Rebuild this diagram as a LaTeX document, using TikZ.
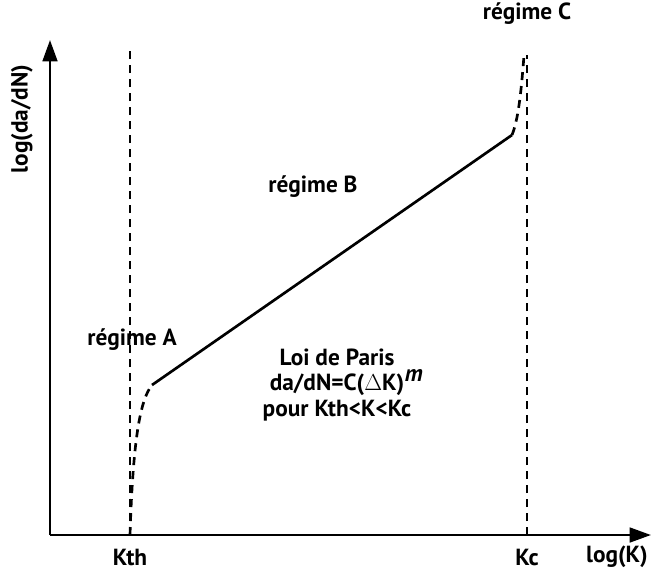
\documentclass[tikz,border=0pt]{standalone}
\usepackage{fontspec}
\setmainfont{PT Sans}
\usepackage{tikz}
\usetikzlibrary{arrows.meta,positioning}

\begin{document}
\begin{tikzpicture}[x=0.75pt,y=-0.75pt,font=\bfseries\fontsize{17.5}{19}\selectfont,
	axe/.style={line width=2pt,-{Triangle[length=16pt,width=11pt]}},
	seuil/.style={line width=2pt,dash pattern=on 6pt off 4.5pt},
	courbe/.style={line width=2pt}]
			\useasboundingbox (0,0) rectangle (652,572);
			\coordinate (origin) at (50,535);
			\coordinate (ytip) at (50,40);
			\coordinate (xtip) at (651,535);
			\coordinate (kthtop) at (130,45);
			\coordinate (kthbot) at (130,535);
			\coordinate (kctop) at (527,55);
			\coordinate (kcbot) at (527,535);
			\coordinate (startA) at (130,535);
			\coordinate (endA) at (152,385);
			\coordinate (endB) at (512,135);
			\coordinate (endC) at (524,55);

			\node (kth) at (130,557) {Kth};
			\node (kc) at (527,557) {Kc};
			\node (logk) at (617,557) {log(K)};
			\node[rotate=90] (logda) at (22,119) {log(da/dN)};
			\node (regA) at (132,340) {régime A};
			\node (regB) at (313,187) {régime B};
			\node (regC) at (527,14) {régime C};
			\node[align=center,inner sep=0pt] (paris) at (337,385) {Loi de Paris\\da/dN=C(\ensuremath{\Delta}K)\rlap{\kern0.5pt\raisebox{7pt}{\itshape m}}\\pour Kth<K<Kc};

			\draw [axe] (origin) to (ytip);
			\draw [axe] (origin) to (xtip);
			\draw [seuil] (kthbot) to (kthtop);
			\draw [seuil] (kcbot) to (kctop);
			\draw [seuil] (startA) .. controls (133,440) and (140,400) .. (endA);
			\draw [courbe] (endA) to (endB);
			\draw [seuil] (endB) .. controls (518,120) and (521,95) .. (endC);
	\end{tikzpicture}
\end{document}
